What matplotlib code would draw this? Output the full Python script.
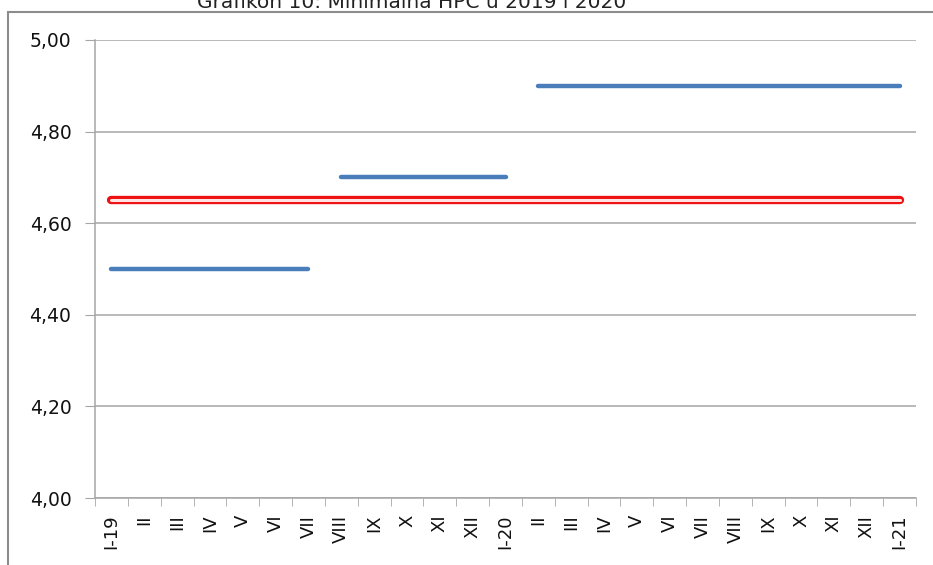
import numpy as np
import matplotlib.pyplot as plt
from matplotlib.patches import Rectangle
from matplotlib.ticker import FuncFormatter

months = ['I-19', 'II', 'III', 'IV', 'V', 'VI', 'VII', 'VIII', 'IX', 'X', 'XI', 'XII',
          'I-20', 'II', 'III', 'IV', 'V', 'VI', 'VII', 'VIII', 'IX', 'X', 'XI', 'XII', 'I-21']
hpc = [4.50, 4.50, 4.50, 4.50, 4.50, 4.50, 4.50,
       4.70, 4.70, 4.70, 4.70, 4.70, 4.70,
       4.90, 4.90, 4.90, 4.90, 4.90, 4.90, 4.90, 4.90, 4.90, 4.90, 4.90, 4.90]
ref = [4.65, 4.65, 4.65, 4.65, 4.65, 4.65, 4.65, 4.65, 4.65, 4.65, 4.65, 4.65, 4.65,
       4.65, 4.65, 4.65, 4.65, 4.65, 4.65, 4.65, 4.65, 4.65, 4.65, 4.65, 4.65]
title = 'Grafikon 10: Minimalna HPC u 2019 i 2020'

plt.rcParams['font.family'] = ['DejaVu Sans']
W, H = 933, 565
fig = plt.figure(figsize=(W / 100, H / 100), dpi=100)

# outer chart frame (cut by image edge on right/bottom)
fig.patches.append(Rectangle((8 / W, -0.1), 1.2, 1 - 12 / H + 0.1, transform=fig.transFigure,
                             fill=False, edgecolor='#8c8c8c', linewidth=1.5))
# title sits above the frame, mostly cut off like in the source image
fig.text(412 / W, 1 - 8 / H, title, ha='center', va='baseline', fontsize=14.5, color='#222222')

ax = fig.add_axes([95 / W, (H - 498) / H, 821 / W, 458 / H])
x = np.arange(len(months))

# blue steps, one segment per constant value
vals = np.array(hpc)
start = 0
for i in range(1, len(vals) + 1):
    if i == len(vals) or vals[i] != vals[start]:
        ax.plot(x[start:i], vals[start:i], color='#4a7ebb', lw=3.2, solid_capstyle='round', zorder=3)
        start = i

ax.plot(x, ref, color='#ee1111', lw=6, solid_capstyle='round', zorder=4)
ax.plot(x, ref, color='#fde3e3', lw=2.2, solid_capstyle='round', zorder=5)

ax.set_xlim(-0.5, len(months) - 0.5)
ax.set_ylim(4.0, 5.0)
ax.set_yticks(np.arange(4.0, 5.01, 0.2))
ax.yaxis.set_major_formatter(FuncFormatter(lambda v, p: f'{v:.2f}'.replace('.', ',')))
ax.grid(axis='y', color='#a6a6a6', lw=1.1)
ax.set_axisbelow(True)

ax.set_xticks(x)
ax.set_xticklabels(months, rotation=90, fontsize=13, color='#111111')
ax.set_xticks(np.arange(-0.5, len(months), 1), minor=True)
ax.tick_params(axis='x', which='major', length=0, pad=12)
ax.tick_params(axis='x', which='minor', length=6, color='#a6a6a6')
ax.tick_params(axis='y', length=7, color='#a6a6a6', labelsize=13.5, labelcolor='#111111', pad=10)

for s in ['top', 'right']:
    ax.spines[s].set_visible(False)
for s in ['left', 'bottom']:
    ax.spines[s].set_color('#a6a6a6')
    ax.spines[s].set_linewidth(1.1)

fig.savefig('out.png', dpi=100)
